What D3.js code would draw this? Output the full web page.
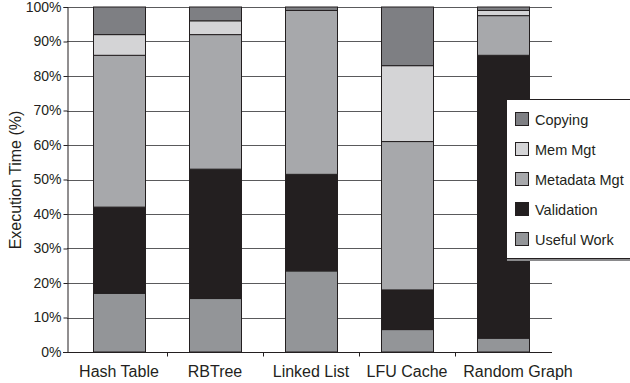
<!DOCTYPE html>
<html lang="en">
<head>
    <meta charset="UTF-8"/>
    <title>Execution Time Breakdown</title>
    <script src="https://d3js.org/d3.v7.min.js"></script>
    <style>
        body { margin: 0; background: #fff; }
        svg { display: block; font-family: "Liberation Sans", Arial, sans-serif; }
    </style>
</head>
<body>
    <div id="chart"></div>

    <script>
        // data (percent of execution time)
        var categories = ["Hash Table", "RBTree", "Linked List", "LFU Cache", "Random Graph"];
        var usefulWork   = [17, 15.5, 23.5, 6.5, 4];
        var validation   = [25, 37.5, 28, 11.5, 82];
        var metadataMgt  = [44, 39, 47.5, 43, 11.5];
        var memMgt       = [6, 4, 0, 22, 1.5];
        var copying      = [8, 4, 1, 17, 1];
        var seriesNames  = ["Useful Work", "Validation", "Metadata Mgt", "Mem Mgt", "Copying"];
        var yTicks       = [0, 10, 20, 30, 40, 50, 60, 70, 80, 90, 100];

        var colors = {
            "Useful Work": "#939598",
            "Validation": "#231f20",
            "Metadata Mgt": "#a7a8ab",
            "Mem Mgt": "#d4d4d6",
            "Copying": "#7e7f83"
        };

        var w = 630;
        var h = 383;

        var rows = categories.map(function(c, i) {
            return {
                cat: c,
                "Useful Work": usefulWork[i],
                "Validation": validation[i],
                "Metadata Mgt": metadataMgt[i],
                "Mem Mgt": memMgt[i],
                "Copying": copying[i]
            };
        });

        var stacked = d3.stack().keys(seriesNames)(rows);

        var xScale = d3.scaleBand()
                        .domain(categories)
                        .range([71, 551])
                        .paddingInner(0.46)
                        .paddingOuter(0.23);

        var yScale = d3.scaleLinear()
                        .domain([0, 100])
                        .range([352, 7]);

        var svg = d3.select("#chart")
                    .append("svg")
                    .attr("width", w)
                    .attr("height", h);

        // gridlines
        svg.append("g")
           .selectAll("line")
           .data(yTicks.slice(1))
           .enter()
           .append("line")
           .attr("x1", 67)
           .attr("x2", 552)
           .attr("y1", function(d) { return Math.round(yScale(d)) + 0.5; })
           .attr("y2", function(d) { return Math.round(yScale(d)) + 0.5; })
           .attr("stroke", "#5a5a5c")
           .attr("stroke-width", 1);

        // bars
        svg.append("g")
           .selectAll("g")
           .data(stacked)
           .enter()
           .append("g")
           .attr("fill", function(d) { return colors[d.key]; })
           .selectAll("rect")
           .data(function(d) { return d; })
           .enter()
           .append("rect")
           .attr("x", function(d) { return Math.round(xScale(d.data.cat)) + 0.5; })
           .attr("width", Math.round(xScale.bandwidth()))
           .attr("y", function(d) { return yScale(d[1]); })
           .attr("height", function(d) { return yScale(d[0]) - yScale(d[1]); })
           .attr("stroke", "#231f20")
           .attr("stroke-width", function(d) { return d[1] - d[0] > 0 ? 1 : 0; });

        // Y axis
        var yAxis = d3.axisLeft(yScale)
                      .tickValues(yTicks)
                      .tickSize(4)
                      .tickPadding(2)
                      .tickFormat(function(d) { return d + "%"; });
        var yg = svg.append("g")
           .attr("transform", "translate(67.5,0)")
           .call(yAxis);
        yg.select(".domain").attr("stroke", "#231f20");
        yg.selectAll(".tick line").attr("stroke", "#231f20");
        yg.selectAll("text")
          .attr("font-size", "14px")
          .attr("font-family", "Liberation Sans, Arial, sans-serif")
          .attr("fill", "#231f20");

        // X axis
        var xg = svg.append("g")
           .attr("transform", "translate(0,352.5)");
        xg.append("line")
          .attr("x1", 63)
          .attr("x2", 552)
          .attr("stroke", "#231f20");
        xg.selectAll("line.tick")
          .data(categories.slice(1))
          .enter()
          .append("line")
          .attr("class", "tick")
          .attr("x1", function(d) { return Math.round(xScale(d) - xScale.step() * xScale.paddingInner() / 2) + 0.5; })
          .attr("x2", function(d) { return Math.round(xScale(d) - xScale.step() * xScale.paddingInner() / 2) + 0.5; })
          .attr("y1", 0)
          .attr("y2", 4)
          .attr("stroke", "#231f20");
        // last label sits a little to the right in the original
        xg.selectAll("text")
          .data(categories)
          .enter()
          .append("text")
          .attr("x", function(d) { return xScale(d) + xScale.bandwidth() / 2; })
          .attr("dx", function(d, i) { return i === categories.length - 1 ? 15 : 0; })
          .attr("y", 24)
          .attr("text-anchor", "middle")
          .attr("font-size", "16px")
          .attr("fill", "#231f20")
          .text(function(d) { return d; });

        // Y axis label
        svg.append("text")
           .attr("transform", "rotate(-90)")
           .attr("x", -180)
           .attr("y", 21)
           .attr("text-anchor", "middle")
           .attr("font-size", "16px")
           .attr("fill", "#231f20")
           .text("Execution Time (%)");

        // legend
        var legend = svg.append("g");
        legend.append("rect")
              .attr("x", 506.5)
              .attr("y", 99.5)
              .attr("width", 130)
              .attr("height", 159)
              .attr("fill", "#fff")
              .attr("stroke", "#231f20");
        legend.append("line")
              .attr("x1", 507)
              .attr("x2", 630)
              .attr("y1", 260)
              .attr("y2", 260)
              .attr("stroke", "#8a8a8c")
              .attr("stroke-width", 2);

        var legendItems = seriesNames.slice().reverse();
        var li = legend.selectAll("g.item")
              .data(legendItems)
              .enter()
              .append("g")
              .attr("class", "item")
              .attr("transform", function(d, i) { return "translate(515," + (119 + i * 30) + ")"; });
        li.append("rect")
          .attr("x", 0.5)
          .attr("y", -6.5)
          .attr("width", 13)
          .attr("height", 13)
          .attr("fill", function(d) { return colors[d]; })
          .attr("stroke", "#231f20");
        li.append("text")
          .attr("x", 20)
          .attr("y", 5.5)
          .attr("font-size", "14.5px")
          .attr("fill", "#231f20")
          .text(function(d) { return d; });
    </script>
</body>
</html>
